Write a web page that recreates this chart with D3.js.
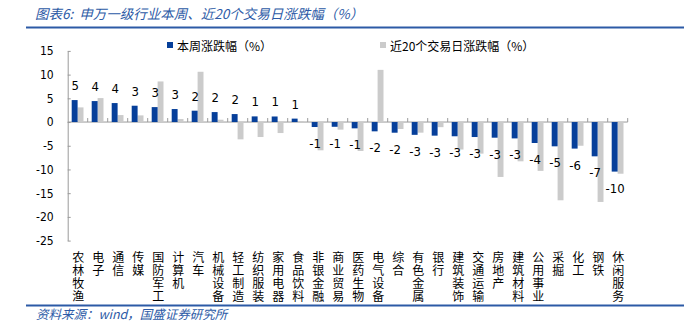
<!DOCTYPE html>
<html>
<head>
<meta charset="utf-8">
<script src="https://cdn.jsdelivr.net/npm/d3@7"></script>
<style>
  html, body { margin: 0; padding: 0; background: #fff; }
  svg { display: block; }
</style>
</head>
<body>
<svg id="chart" width="691" height="326"></svg>
<script>
// 申万一级行业：本周涨跌幅与近20个交易日涨跌幅（%）
const categories = [
  "农林牧渔", "电子", "通信", "传媒", "国防军工", "计算机", "汽车",
  "机械设备", "轻工制造", "纺织服装", "家用电器", "食品饮料", "非银金融", "商业贸易",
  "医药生物", "电气设备", "综合", "有色金属", "银行", "建筑装饰", "交通运输",
  "房地产", "建筑材料", "公用事业", "采掘", "化工", "钢铁", "休闲服务"
];
const weekChange = [
  4.63, 4.42, 4.0, 3.44, 3.15, 2.74, 2.39,
  2.1, 1.68, 1.19, 1.17, 0.72, -1.05, -1.0,
  -1.33, -1.96, -2.25, -2.7, -2.87, -3.0, -3.16,
  -3.3, -3.45, -4.42, -5.12, -5.6, -7.23, -10.45
];
const day20Change = [
  3.09, 5.05, 1.47, 1.4, 8.56, 0.63, 10.6,
  0.49, -3.65, -3.16, -2.32, 0.2, -5.96, -1.6,
  -6.1, 11.0, -1.47, -2.24, -1.08, -5.8, -6.66,
  -11.58, -8.28, -10.3, -16.5, -5.0, -16.85, -10.9
];
const yTicks = [15, 10, 5, 0, -5, -10, -15, -20, -25];
const seriesNames = ["本周涨跌幅（%）", "近20个交易日涨跌幅（%）"];
const titleText = "图表6:  申万一级行业本周、近20个交易日涨跌幅（%）";
const sourceText = "资料来源：wind，国盛证券研究所";

const BLUE = "#063f9a";
const GRAY = "#cbcbcb";
const HEAD = "#2c5aa6";
const AXIS = "#9a9a9a";
const LATIN = "'DejaVu Sans Condensed', 'DejaVu Sans', Verdana, sans-serif";
const CJK = "'Noto Sans CJK SC', 'Noto Sans', sans-serif";

// Number formatting with a plain hyphen as the minus sign
const locale = d3.formatLocale({ decimal: ".", thousands: ",", grouping: [3], currency: ["", ""], minus: "-" });
const fmt = locale.format(".0f");

const svg = d3.select("#chart");

// Header and footer
svg.append("text")
  .attr("x", 35).attr("y", 19)
  .attr("fill", HEAD)
  .attr("font-family", CJK)
  .attr("font-size", 13.5)
  .attr("font-style", "italic")
  .attr("xml:space", "preserve")
  .text(titleText);
svg.append("line")
  .attr("x1", 26).attr("x2", 684).attr("y1", 27.5).attr("y2", 27.5)
  .attr("stroke", HEAD).attr("stroke-width", 2);
svg.append("line")
  .attr("x1", 26).attr("x2", 684).attr("y1", 305.5).attr("y2", 305.5)
  .attr("stroke", HEAD).attr("stroke-width", 2);
svg.append("text")
  .attr("x", 36).attr("y", 318.5)
  .attr("fill", HEAD)
  .attr("font-family", CJK)
  .attr("font-size", 12.5)
  .attr("font-style", "italic")
  .text(sourceText);

// Scales
const x0 = d3.scaleBand().domain(categories).range([67.7, 627.7]).paddingInner(0).paddingOuter(0);
const x1 = d3.scaleBand().domain(["week", "day20"]).range([4, 15.8]).padding(0);
const y = d3.scaleLinear().domain([-25, 15]).range([240.6, 50.9]);

// Y axis (ticks point into the plot)
const yAxis = d3.axisLeft(y).tickValues(yTicks).tickFormat(fmt)
  .tickSizeInner(-3).tickSizeOuter(0).tickPadding(14);
const gy = svg.append("g").attr("transform", "translate(67.7,0)").call(yAxis);
gy.select(".domain").attr("stroke", AXIS);
gy.selectAll(".tick line").attr("stroke", AXIS);
gy.selectAll(".tick text")
  .attr("font-family", LATIN).attr("font-size", 12).attr("fill", "#000");

// Category axis on the zero line, ticks pointing up
const xAxisLine = svg.append("g").attr("transform", `translate(0,${y(0)})`);
xAxisLine.append("line")
  .attr("x1", x0.range()[0]).attr("x2", x0.range()[1])
  .attr("stroke", AXIS);
const boundaries = categories.map(c => x0(c)).concat([x0.range()[1]]);
xAxisLine.selectAll("line.cat-tick").data(boundaries.slice(1)).join("line")
  .attr("class", "cat-tick")
  .attr("x1", d => d).attr("x2", d => d)
  .attr("y1", -4).attr("y2", 0)
  .attr("stroke", AXIS);

// Bars
const rows = categories.map((c, i) => ({ cat: c, week: weekChange[i], day20: day20Change[i] }));
const groups = svg.append("g").selectAll("g").data(rows).join("g")
  .attr("transform", d => `translate(${x0(d.cat)},0)`);

groups.append("rect")
  .attr("x", x1("day20")).attr("width", x1.bandwidth())
  .attr("y", d => y(Math.max(0, d.day20)))
  .attr("height", d => Math.abs(y(d.day20) - y(0)))
  .attr("fill", GRAY);
groups.append("rect")
  .attr("x", x1("week")).attr("width", x1.bandwidth())
  .attr("y", d => y(Math.max(0, d.week)))
  .attr("height", d => Math.abs(y(d.week) - y(0)))
  .attr("fill", BLUE);

// Value labels for the weekly series
groups.append("text")
  .attr("x", x1("week") + x1.bandwidth() / 2 + 0.5)
  .attr("y", d => d.week >= 0 ? y(d.week) - 10 : y(d.week) + 21)
  .attr("text-anchor", "middle")
  .attr("font-family", LATIN)
  .attr("font-size", 13)
  .attr("fill", "#000")
  .text(d => fmt(d.week));

// Vertical category names, set top-to-bottom
svg.append("g").selectAll("text").data(categories).join("text")
  .attr("x", d => x0(d) + x0.bandwidth() / 2 + 0.5)
  .attr("y", 251)
  .style("writing-mode", "vertical-rl")
  .style("letter-spacing", "1px")
  .attr("font-family", CJK)
  .attr("font-size", 12)
  .attr("fill", "#000")
  .text(d => d);

// Legend
const legend = svg.append("g");
const legendItems = [
  { name: seriesNames[0], color: BLUE, x: 167 },
  { name: seriesNames[1], color: GRAY, x: 380 }
];
legendItems.forEach(item => {
  legend.append("rect")
    .attr("x", item.x).attr("y", 42).attr("width", 6).attr("height", 6)
    .attr("fill", item.color);
  legend.append("text")
    .attr("x", item.x + 10).attr("y", 45)
    .attr("dominant-baseline", "central")
    .attr("font-family", CJK)
    .attr("font-size", 12)
    .attr("fill", "#000")
    .text(item.name);
});
</script>
</body>
</html>
